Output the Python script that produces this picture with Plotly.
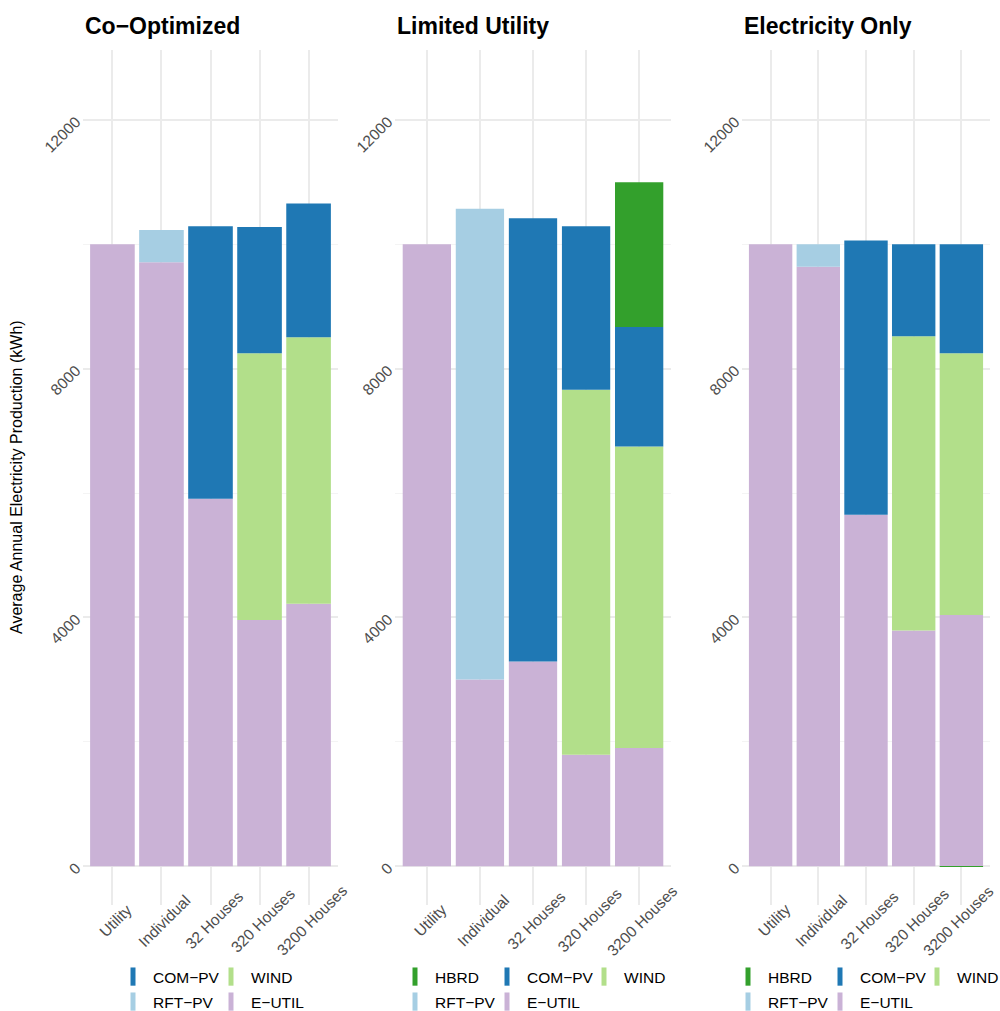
import plotly.graph_objects as go

# ---------------- data ----------------
categories = ["Utility", "Individual", "32 Houses", "320 Houses", "3200 Houses"]
panel_titles = ["Co−Optimized", "Limited Utility", "Electricity Only"]
y_tick_values = [0, 4000, 8000, 12000]
y_axis_title = "Average Annual Electricity Production (kWh)"

# Co-Optimized
co_eutil = [10000, 9710, 5910, 3960, 4220]
co_wind = [0, 0, 0, 4290, 4285]
co_rftpv = [0, 520, 0, 0, 0]
co_compv = [0, 0, 4380, 2030, 2150]
co_hbrd = [0, 0, 0, 0, 0]

# Limited Utility
lu_eutil = [10000, 3000, 3290, 1790, 1900]
lu_wind = [0, 0, 0, 5870, 4850]
lu_rftpv = [0, 7570, 0, 0, 0]
lu_compv = [0, 0, 7130, 2630, 1920]
lu_hbrd = [0, 0, 0, 0, 2330]

# Electricity Only
eo_eutil = [10000, 9640, 5650, 3790, 4040]
eo_wind = [0, 0, 0, 4730, 4210]
eo_rftpv = [0, 360, 0, 0, 0]
eo_compv = [0, 0, 4410, 1480, 1750]
eo_hbrd = [0, 0, 0, 0, -10]

colors = {
    "HBRD": "#33A02C",
    "COM−PV": "#1F78B4",
    "WIND": "#B2DF8A",
    "RFT−PV": "#A6CEE3",
    "E−UTIL": "#CAB2D6",
}

panels = [
    {"E−UTIL": co_eutil, "WIND": co_wind, "RFT−PV": co_rftpv, "COM−PV": co_compv, "HBRD": co_hbrd},
    {"E−UTIL": lu_eutil, "WIND": lu_wind, "RFT−PV": lu_rftpv, "COM−PV": lu_compv, "HBRD": lu_hbrd},
    {"E−UTIL": eo_eutil, "WIND": eo_wind, "RFT−PV": eo_rftpv, "COM−PV": eo_compv, "HBRD": eo_hbrd},
]
stack_order = ["E−UTIL", "WIND", "RFT−PV", "COM−PV", "HBRD"]

# legend rows per panel: (name, legendwidth)
legend_rows = [
    [[("COM−PV", 53), ("WIND", None)], [("RFT−PV", 53), ("E−UTIL", None)]],
    [[("HBRD", 47), ("COM−PV", 52), ("WIND", None)], [("RFT−PV", 47), ("E−UTIL", None)]],
    [[("HBRD", 47), ("COM−PV", 52), ("WIND", None)], [("RFT−PV", 47), ("E−UTIL", None)]],
]

# ---------------- layout geometry (pixels) ----------------
W, H = 1000, 1011
panel_px = [(83, 338), (395, 671), (742, 990)]
top_px, bottom_px = 50, 905
legend_sym_px = [135, 417, 750]
legend_row_px = [977, 1002]
xlabel_center_px = 920

FONT = "Liberation Sans, Arial, Helvetica, sans-serif"
TICK_COLOR = "#4D4D4D"
FS = 15.5


def py(p):
    return (H - p) / H


fig = go.Figure()

for i, data in enumerate(panels):
    ax = "" if i == 0 else str(i + 1)
    for name in stack_order:
        fig.add_trace(go.Bar(
            x=categories, y=data[name], name=name,
            marker=dict(color=colors[name], line=dict(width=0)),
            xaxis="x" + ax, yaxis="y" + ax, showlegend=False,
        ))

# legend entries (one legend per row per panel)
legend_idx = 0
legend_layouts = {}
for i in range(3):
    ax = "" if i == 0 else str(i + 1)
    for r, row in enumerate(legend_rows[i]):
        legend_idx += 1
        lname = "legend" if legend_idx == 1 else f"legend{legend_idx}"
        for name, lw in row:
            kw = {}
            if lw is not None:
                kw["legendwidth"] = lw
            fig.add_trace(go.Scatter(
                x=[None], y=[None], mode="markers", name=name,
                marker=dict(symbol="line-ns", size=13,
                            color=colors[name],
                            line=dict(color=colors[name], width=6)),
                xaxis="x" + ax, yaxis="y" + ax,
                legend=lname, showlegend=True, hoverinfo="skip", **kw,
            ))
        legend_layouts[lname] = dict(
            orientation="h",
            x=(legend_sym_px[i] - 22) / W, xanchor="left",
            y=py(legend_row_px[r]), yanchor="middle",
            font=dict(family=FONT, size=FS, color="#000000"),
            bgcolor="rgba(0,0,0,0)", borderwidth=0,
            traceorder="normal", itemclick=False, itemdoubleclick=False,
        )

layout = dict(
    width=W, height=H,
    margin=dict(l=0, r=0, t=0, b=0, pad=0, autoexpand=False),
    paper_bgcolor="white", plot_bgcolor="white",
    barmode="relative", bargap=0.09,
    font=dict(family=FONT, size=FS, color="#000000"),
    hovermode=False,
)
layout.update(legend_layouts)

annotations = []
for i in range(3):
    ax = "" if i == 0 else str(i + 1)
    x0, x1 = panel_px[i]
    layout["xaxis" + ax] = dict(
        domain=[x0 / W, x1 / W], anchor="y" + ax,
        type="category", range=[-0.6, len(categories) - 0.4],
        showgrid=True, gridcolor="#EBEBEB", gridwidth=2,
        showticklabels=False, ticks="", showline=False, zeroline=False,
        fixedrange=True,
    )
    layout["yaxis" + ax] = dict(
        domain=[py(bottom_px), py(top_px)], anchor="x" + ax,
        range=[-625, 13125],
        tickvals=y_tick_values, ticktext=[str(v) for v in y_tick_values],
        tickangle=-45,
        tickfont=dict(family=FONT, size=FS, color=TICK_COLOR),
        showgrid=True, gridcolor="#EBEBEB", gridwidth=2,
        minor=dict(dtick=2000, tick0=0, showgrid=True, gridcolor="#F4F4F4", gridwidth=1),
        ticks="", ticklabelstandoff=6, showline=False, zeroline=False,
        fixedrange=True,
    )
    # panel title
    annotations.append(dict(
        text=panel_titles[i], xref=f"x{ax} domain", x=0, xanchor="left",
        yref="paper", y=py(26), yanchor="middle", showarrow=False,
        font=dict(family=FONT, size=23, color="#000000", weight="bold"),
    ))
    # rotated category labels
    for j, c in enumerate(categories):
        shift = 3
        if i == 2 and j == len(categories) - 1:
            shift = -3  # keep the last label inside the page
        annotations.append(dict(
            text=c, xref="x" + ax, x=c, xanchor="center", xshift=shift,
            yref="paper", y=py(xlabel_center_px), yanchor="middle",
            textangle=-45, showarrow=False,
            font=dict(family=FONT, size=FS, color=TICK_COLOR),
        ))

annotations.append(dict(
    text=y_axis_title, xref="paper", x=17 / W, xanchor="center",
    yref="paper", y=py(477), yanchor="middle", textangle=-90,
    showarrow=False, font=dict(family=FONT, size=16, color="#000000"),
))
layout["annotations"] = annotations

fig.update_layout(**layout)
fig.write_html(
    "out.html",
    config={"displayModeBar": False, "staticPlot": False},
    post_script="document.body.style.margin='0';document.body.style.overflow='hidden';",
)
